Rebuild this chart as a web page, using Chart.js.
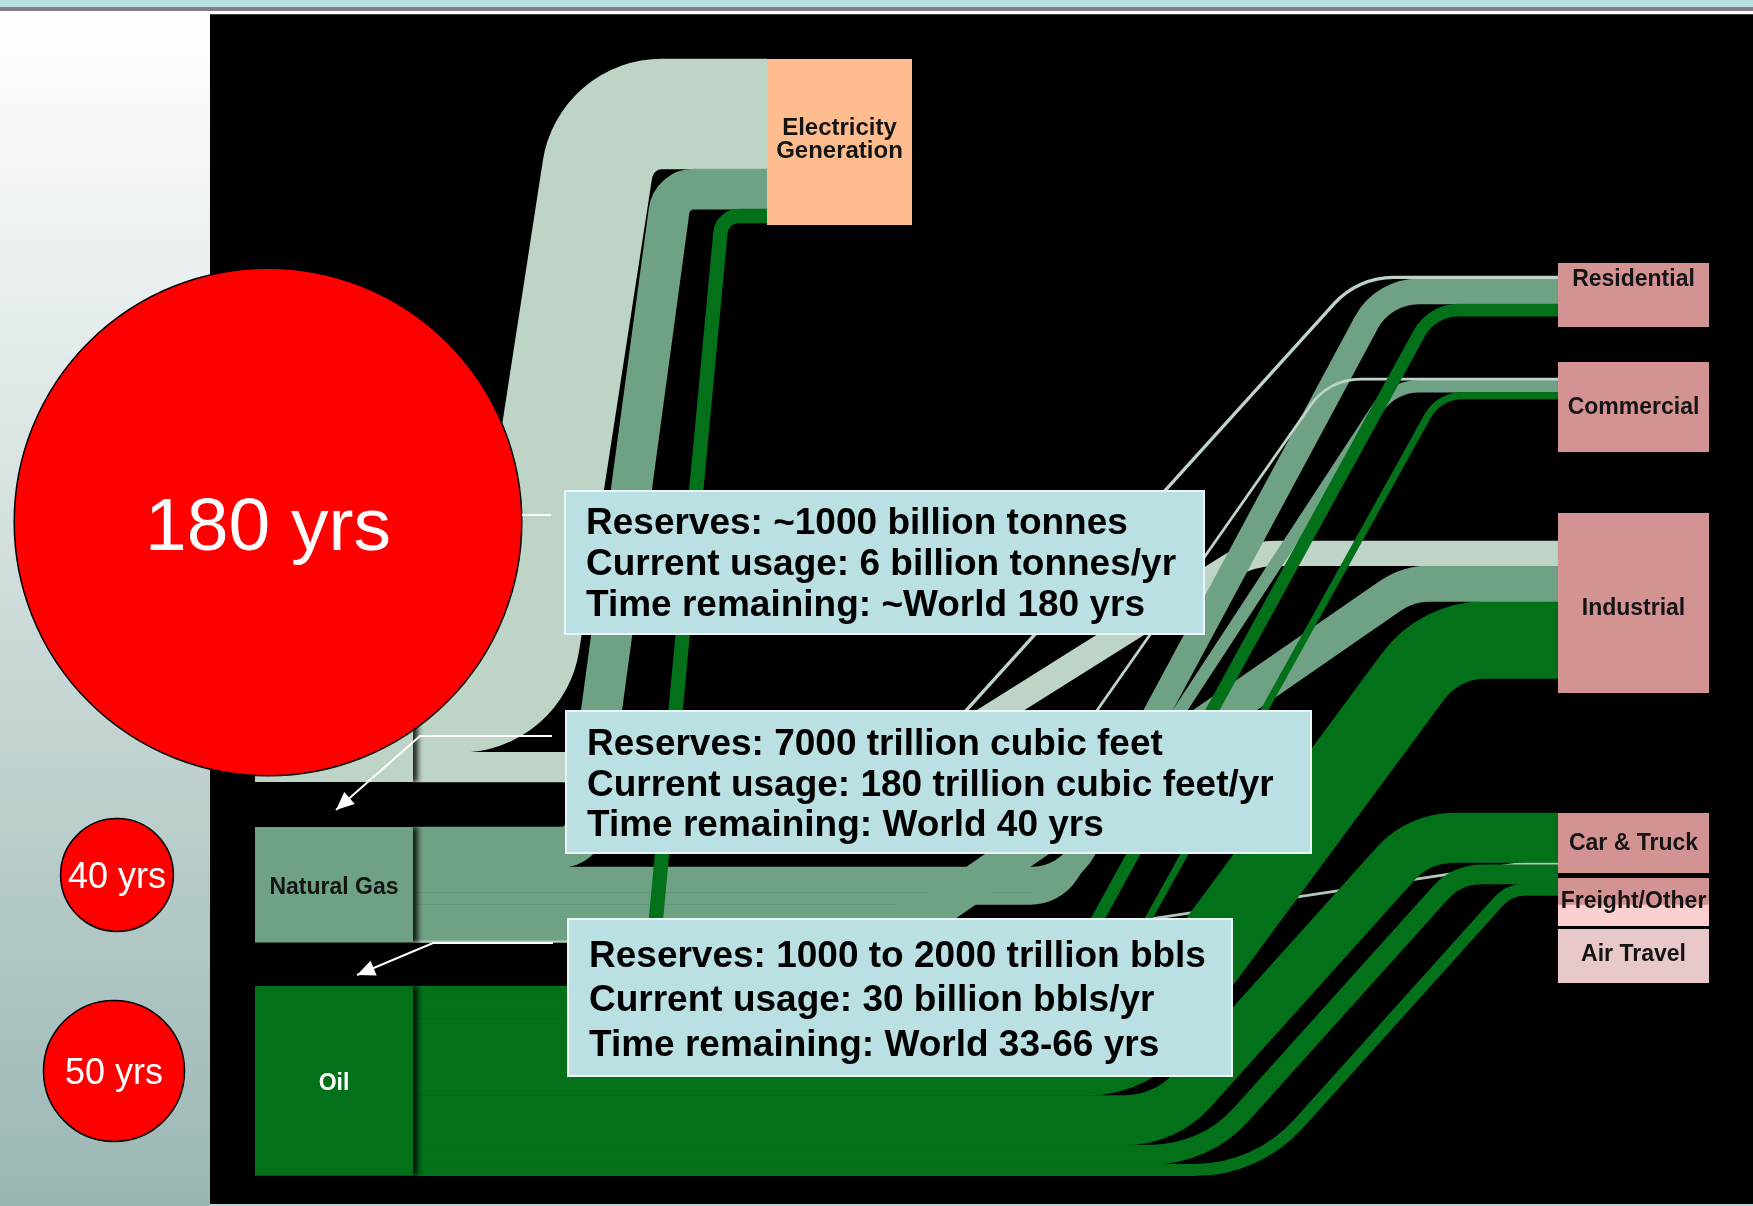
<!DOCTYPE html>
<html>
<head>
<meta charset="utf-8">
<title>Fossil fuel flows and reserves</title>
<script src="https://cdn.jsdelivr.net/npm/chart.js@4.4.1/dist/chart.umd.min.js"></script>
<style>
  html, body { margin: 0; padding: 0; background: #000; overflow: hidden; }
  #wrap { width: 1753px; height: 1206px; }
</style>
</head>
<body>
<div id="wrap"><canvas id="flowChart" width="1753" height="1206"></canvas></div>
<script>
const FONT = '"Liberation Sans", Arial, Helvetica, sans-serif';

// fuels on the left, end uses on the right; every band uses the same unit
const fuels = ['Coal', 'Natural Gas', 'Oil'];
const uses = ['Electricity Generation', 'Residential', 'Commercial', 'Industrial',
              'Car & Truck', 'Freight/Other', 'Air Travel'];
const coalUse = [20, 0.5, 0.4, 4.5, 0, 0, 0];
const gasUse  = [7.3, 4.6, 2.2, 6.5, 0.4, 0, 0];
const oilUse  = [2.5, 2.2, 1.2, 14, 9, 3.5, 2.1];

// years of reserves left: coal, gas, oil
const yearsLeft = [180, 40, 50];

const coalNotes = ['Reserves: ~1000 billion tonnes', 'Current usage: 6 billion tonnes/yr', 'Time remaining: ~World 180 yrs'];
const gasNotes  = ['Reserves: 7000 trillion cubic feet', 'Current usage: 180 trillion cubic feet/yr', 'Time remaining: World 40 yrs'];
const oilNotes  = ['Reserves: 1000 to 2000 trillion bbls', 'Current usage: 30 billion bbls/yr', 'Time remaining: World 33-66 yrs'];

// ---- layout and style (axis units: x 0..1753, y 0..1206 downwards) ----
const UNIT = 5.5;         // band thickness per unit of flow
const R_PER_YEAR = 1.41;  // bubble radius per year of reserves
const TEXT_DROP = 3;      // optical centring of text on its line

const fuelColors = { 'Coal': '#bdd4c6', 'Natural Gas': '#6fa184', 'Oil': '#03701a' };
const flowColors = { 'Natural Gas>Car & Truck': '#b3c7bb' };

const fuelBoxes = {
  'Coal':        { x: 255, w: 158, bottom: 782, text: '#141414' },
  'Natural Gas': { x: 255, w: 158, top: 827, text: '#141414' },
  'Oil':         { x: 255, w: 158, top: 986, text: '#ffffff' }
};

const PINK = '#d49393';
const useBoxes = {
  'Electricity Generation': { x: 767, y: 59, w: 145, h: 166, inTop: 59, fill: '#ffbd8f',
                              lines: ['Electricity', 'Generation'], labelY: [125, 148], size: 24, flat: true },
  'Residential':   { x: 1558, y: 263, w: 151, h: 64,  inTop: 276, fill: PINK, labelY: [277] },
  'Commercial':    { x: 1558, y: 362, w: 151, h: 90,  inTop: 378, fill: PINK, labelY: [405] },
  'Industrial':    { x: 1558, y: 513, w: 151, h: 180, inTop: 541, fill: PINK, labelY: [606] },
  'Car & Truck':   { x: 1558, y: 813, w: 151, h: 60,  inTop: 813, fill: PINK, labelY: [841],
                     stack: ['Oil', 'Natural Gas'] },
  'Freight/Other': { x: 1558, y: 878, w: 151, h: 48,  inTop: null, fill: PINK, fill2: '#fdd0d0', labelY: [899] },
  'Air Travel':    { x: 1558, y: 929, w: 151, h: 54,  inTop: null, fill: '#e8c8c8', labelY: [952] }
};

// where each band leaves its fuel level (xa), reaches its use level (xb),
// and the corner radii at those two bends
const routes = {
  'Coal>Electricity Generation':        [516, 606, 65, 65],
  'Coal>Residential':                   [927, 1358, 80, 80],
  'Coal>Commercial':                    [1065, 1329, 60, 60],
  'Coal>Industrial':                    [906, 1250, 90, 90],
  'Natural Gas>Electricity Generation': [583, 672, 25, 25],
  'Natural Gas>Residential':            [1067, 1383, 60, 60],
  'Natural Gas>Commercial':             [1057, 1392, 50, 50],
  'Natural Gas>Industrial':             [918, 1408, 70, 70],
  'Natural Gas>Car & Truck':            [1000, 1520, 100, 100],
  'Oil>Electricity Generation':         [649, 722, 18, 18],
  'Oil>Residential':                    [1050, 1432, 45, 45],
  'Oil>Commercial':                     [1095, 1439, 40, 40],
  'Oil>Industrial':                     [1132, 1440, 90, 90],
  'Oil>Car & Truck':                    [1165, 1419, 90, 80],
  'Oil>Freight/Other':                  [1205, 1457, 120, 55],
  'Oil>Air Travel':                     [1257, 1509, 140, 35]
};

// back to front
const drawOrder = [
  'Coal>Electricity Generation', 'Natural Gas>Electricity Generation', 'Natural Gas>Car & Truck',
  'Oil>Air Travel', 'Oil>Freight/Other', 'Oil>Car & Truck', 'Oil>Industrial',
  'Natural Gas>Industrial', 'Coal>Industrial',
  'Natural Gas>Commercial', 'Natural Gas>Residential', 'Coal>Commercial', 'Coal>Residential',
  'Oil>Electricity Generation', 'Oil>Commercial', 'Oil>Residential'
];

const circleCenters = [[268, 522], [117, 875], [114, 1071]];
const circleFont = [75, 36, 36];

const noteBoxes = [
  { x: 565, y: 491, w: 639, h: 143, lineY: [521, 562, 603], lines: coalNotes },
  { x: 566, y: 711, w: 745, h: 142, lineY: [742, 783, 823], lines: gasNotes },
  { x: 568, y: 919, w: 664, h: 157, lineY: [954, 998, 1043], lines: oilNotes }
];
const connectors = [
  { pts: [[522, 515], [551, 515]], arrow: false },
  { pts: [[552, 736], [420, 736], [336, 810]], arrow: true },
  { pts: [[553, 943], [433, 943], [357, 975]], arrow: true }
];

// ---- flow geometry from the data ----
function buildFlows() {
  const table = { 'Coal': coalUse, 'Natural Gas': gasUse, 'Oil': oilUse };
  const flows = [];
  fuels.forEach(f => uses.forEach((u, i) => {
    if (table[f][i] > 0) flows.push({ from: f, to: u, value: table[f][i], key: f + '>' + u });
  }));

  // fuel boxes are as tall as what leaves them; outgoing bands stack in use order
  const cursor = {};
  fuels.forEach(f => {
    const total = table[f].reduce((a, b) => a + b, 0) * UNIT;
    const b = fuelBoxes[f];
    b.y = b.top !== undefined ? b.top : b.bottom - total;
    b.h = total;
    cursor[f] = b.y;
  });
  flows.forEach(fl => { fl.y0 = cursor[fl.from]; cursor[fl.from] += fl.value * UNIT; });

  // incoming bands stack in fuel order; a use without inTop continues under the previous one
  let prevEnd = 0;
  uses.forEach(u => {
    const box = useBoxes[u];
    let cur = box.inTop !== null ? box.inTop : prevEnd;
    (box.stack || fuels).forEach(f => {
      const fl = flows.find(d => d.from === f && d.to === u);
      if (fl) { fl.y1 = cur; cur += fl.value * UNIT; }
    });
    prevEnd = cur;
  });
  return flows;
}
const flows = buildFlows();

function cornerRadius(a, b, c, r, lenA, lenC) {
  const ux = a.x - b.x, uy = a.y - b.y, vx = c.x - b.x, vy = c.y - b.y;
  const lu = Math.hypot(ux, uy), lv = Math.hypot(vx, vy);
  if (lu < 1e-6 || lv < 1e-6) return 0;
  const theta = Math.acos(Math.max(-1, Math.min(1, (ux * vx + uy * vy) / (lu * lv))));
  if (theta > Math.PI - 1e-3) return 0;
  return Math.max(0, Math.min(r, Math.min(lenA, lenC) * Math.tan(theta / 2)));
}

function drawFlow(ctx, fl, X, Y) {
  const [xa, xb, radA, radB] = routes[fl.key];
  const src = fuelBoxes[fl.from], dst = useBoxes[fl.to];
  const half = fl.value * UNIT / 2;
  const p0 = { x: X(src.x + src.w), y: Y(fl.y0 + half) };
  const pa = { x: X(xa), y: p0.y };
  const pb = { x: X(xb), y: Y(fl.y1 + half) };
  const p1 = { x: X(dst.x), y: pb.y };
  const mid = Math.hypot(pb.x - pa.x, pb.y - pa.y) / 2;
  const r1 = cornerRadius(p0, pa, pb, X(radA) - X(0), Math.abs(pa.x - p0.x), mid);
  const r2 = cornerRadius(pa, pb, p1, X(radB) - X(0), mid, Math.abs(p1.x - pb.x));

  ctx.beginPath();
  ctx.moveTo(p0.x, p0.y);
  ctx.arcTo(pa.x, pa.y, pb.x, pb.y, r1);
  ctx.arcTo(pb.x, pb.y, p1.x, p1.y, r2);
  ctx.lineTo(p1.x, p1.y);
  ctx.lineWidth = Math.abs(Y(fl.y0 + 2 * half) - Y(fl.y0)) + 0.6;
  ctx.strokeStyle = flowColors[fl.key] || fuelColors[fl.from];
  ctx.lineCap = 'butt';
  ctx.lineJoin = 'round';
  ctx.stroke();
}

function boxLabel(ctx, text, cx, cy, size, color, weight) {
  ctx.font = `${weight} ${size}px ${FONT}`;
  ctx.fillStyle = color;
  ctx.textAlign = 'center';
  ctx.textBaseline = 'middle';
  ctx.fillText(text, cx, cy);
}

const flowPlugin = {
  id: 'energyFlows',
  beforeDatasetsDraw(chart) {
    const { ctx, scales: { x, y } } = chart;
    const X = v => x.getPixelForValue(v);
    const Y = v => y.getPixelForValue(v);
    const rect = (x0, y0, x1, y1) => ctx.fillRect(X(x0), Y(y0), X(x1) - X(x0), Y(y1) - Y(y0));

    ctx.save();
    // frame: strip on top, pale panel on the left, black stage
    ctx.fillStyle = '#badfe2'; rect(0, 0, 1753, 7);
    ctx.fillStyle = '#808080'; rect(0, 7, 1753, 11);
    ctx.fillStyle = '#ffffff'; rect(0, 11, 1753, 14.5);
    const g = ctx.createLinearGradient(0, Y(14), 0, Y(1206));
    g.addColorStop(0, '#ffffff');
    g.addColorStop(1, '#9ab7b4');
    ctx.fillStyle = g; rect(0, 14, 210, 1206);
    ctx.fillStyle = '#000000'; rect(210, 14.5, 1753, 1204);
    ctx.fillStyle = '#b7d7d8'; rect(210, 1204, 1753, 1206);

    drawOrder.forEach(k => {
      const fl = flows.find(d => d.key === k);
      if (fl) drawFlow(ctx, fl, X, Y);
    });

    // fuel boxes with a dark shadow on their right edge
    fuels.forEach(f => {
      const b = fuelBoxes[f];
      ctx.save();
      ctx.shadowColor = 'rgba(0,0,0,0.8)';
      ctx.shadowOffsetX = 5;
      ctx.shadowBlur = 5;
      ctx.fillStyle = fuelColors[f];
      rect(b.x, b.y, b.x + b.w, b.y + b.h);
      ctx.restore();
      boxLabel(ctx, f, X(b.x + b.w / 2), Y(b.y + b.h / 2 + TEXT_DROP), 23, b.text, 'bold');
    });

    uses.forEach(u => {
      const b = useBoxes[u];
      ctx.save();
      if (!b.flat) {
        ctx.shadowColor = 'rgba(0,0,0,0.6)';
        ctx.shadowOffsetX = 2;
        ctx.shadowOffsetY = 2;
        ctx.shadowBlur = 3;
      }
      if (b.fill2) {
        const fg = ctx.createLinearGradient(0, Y(b.y), 0, Y(b.y + b.h));
        fg.addColorStop(0, b.fill); fg.addColorStop(0.55, b.fill);
        fg.addColorStop(0.56, b.fill2); fg.addColorStop(1, b.fill2);
        ctx.fillStyle = fg;
      } else {
        ctx.fillStyle = b.fill;
      }
      rect(b.x, b.y, b.x + b.w, b.y + b.h);
      ctx.restore();
      const lines = b.lines || [u];
      lines.forEach((t, i) => boxLabel(ctx, t, X(b.x + b.w / 2), Y(b.labelY[i] + TEXT_DROP), b.size || 23, '#141414', 'bold'));
    });
    ctx.restore();
  },
  afterDatasetsDraw(chart) {
    const { ctx, scales: { x, y } } = chart;
    const X = v => x.getPixelForValue(v);
    const Y = v => y.getPixelForValue(v);
    ctx.save();

    // years left, written inside each bubble
    chart.getDatasetMeta(0).data.forEach((pt, i) => {
      boxLabel(ctx, yearsLeft[i] + ' yrs', pt.x, pt.y + circleFont[i] * 0.095, circleFont[i], '#ffffff', 'normal');
    });

    // reserve notes
    noteBoxes.forEach(n => {
      ctx.fillStyle = '#bbe0e3';
      ctx.fillRect(X(n.x), Y(n.y), X(n.x + n.w) - X(n.x), Y(n.y + n.h) - Y(n.y));
      ctx.strokeStyle = '#eaf6f6';
      ctx.lineWidth = 2;
      ctx.strokeRect(X(n.x), Y(n.y), X(n.x + n.w) - X(n.x), Y(n.y + n.h) - Y(n.y));
      ctx.font = `bold 37px ${FONT}`;
      ctx.fillStyle = '#000000';
      ctx.textAlign = 'left';
      ctx.textBaseline = 'middle';
      n.lines.forEach((t, i) => ctx.fillText(t, X(n.x + 21), Y(n.lineY[i] + TEXT_DROP)));
    });

    // leader lines from the notes
    ctx.strokeStyle = '#ffffff';
    ctx.fillStyle = '#ffffff';
    ctx.lineWidth = 2;
    connectors.forEach(c => {
      const pts = c.pts.map(p => [X(p[0]), Y(p[1])]);
      ctx.beginPath();
      ctx.moveTo(pts[0][0], pts[0][1]);
      pts.slice(1).forEach(p => ctx.lineTo(p[0], p[1]));
      ctx.stroke();
      if (c.arrow) {
        const [tx, ty] = pts[pts.length - 1];
        const [fx, fy] = pts[pts.length - 2];
        const a = Math.atan2(ty - fy, tx - fx);
        const len = 18, wid = 8;
        ctx.beginPath();
        ctx.moveTo(tx, ty);
        ctx.lineTo(tx - len * Math.cos(a) + wid * Math.sin(a), ty - len * Math.sin(a) - wid * Math.cos(a));
        ctx.lineTo(tx - len * Math.cos(a) - wid * Math.sin(a), ty - len * Math.sin(a) + wid * Math.cos(a));
        ctx.closePath();
        ctx.fill();
      }
    });
    ctx.restore();
  }
};

new Chart(document.getElementById('flowChart').getContext('2d'), {
  type: 'bubble',
  data: {
    datasets: [{
      label: 'Years of reserves',
      data: yearsLeft.map((v, i) => ({ x: circleCenters[i][0], y: circleCenters[i][1], r: v * R_PER_YEAR })),
      backgroundColor: '#ff0000',
      borderColor: '#000000',
      borderWidth: 1.5,
      clip: false
    }]
  },
  options: {
    responsive: false,
    devicePixelRatio: 1,
    animation: false,
    events: [],
    layout: { padding: 0, autoPadding: false },
    scales: {
      x: { type: 'linear', min: 0, max: 1753, display: false },
      y: { type: 'linear', min: 0, max: 1206, reverse: true, display: false }
    },
    plugins: { legend: { display: false }, tooltip: { enabled: false } }
  },
  plugins: [flowPlugin]
});
</script>
</body>
</html>
